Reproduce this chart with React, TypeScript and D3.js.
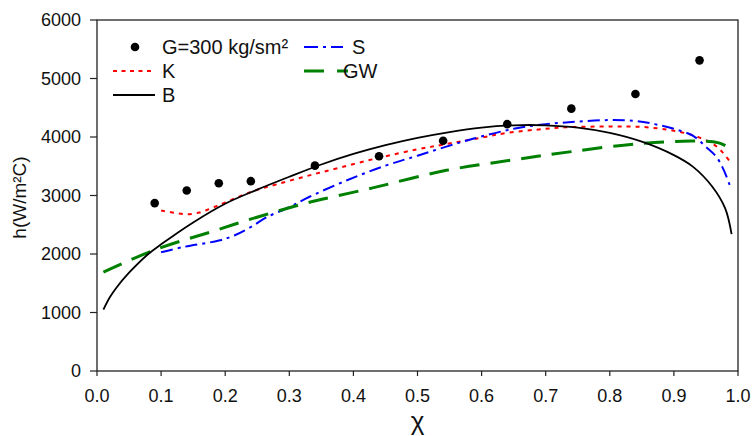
import React from 'react';
import * as d3 from 'd3';

// measured points G=300 kg/sm²
const expX = [0.09, 0.14, 0.19, 0.24, 0.34, 0.44, 0.54, 0.64, 0.74, 0.84, 0.94];
const expH = [2870, 3085, 3210, 3245, 3510, 3670, 3935, 4220, 4485, 4735, 5310];

// correlations
const kX = [0.1, 0.12, 0.14, 0.16, 0.18, 0.2, 0.24, 0.28, 0.33, 0.38, 0.44, 0.5, 0.54, 0.6, 0.64, 0.7, 0.73, 0.8, 0.85, 0.89, 0.92, 0.94, 0.96, 0.975, 0.988];
const kH = [2745, 2705, 2680, 2710, 2790, 2880, 3060, 3190, 3340, 3480, 3645, 3790, 3870, 3990, 4070, 4140, 4165, 4180, 4172, 4125, 4060, 3990, 3890, 3750, 3570];

const bX = [0.01, 0.02, 0.03, 0.05, 0.08, 0.1, 0.15, 0.2, 0.25, 0.3, 0.35, 0.4, 0.45, 0.5, 0.55, 0.6, 0.65, 0.7, 0.75, 0.8, 0.85, 0.9, 0.93, 0.96, 0.98, 0.99];
const bH = [1050, 1260, 1420, 1680, 2000, 2165, 2540, 2860, 3100, 3320, 3530, 3710, 3860, 3985, 4085, 4160, 4200, 4200, 4160, 4070, 3920, 3690, 3490, 3150, 2780, 2340];

const sX = [0.1, 0.135, 0.19, 0.215, 0.24, 0.265, 0.3, 0.33, 0.39, 0.45, 0.5, 0.58, 0.65, 0.7, 0.75, 0.8, 0.84, 0.87, 0.9, 0.93, 0.95, 0.967, 0.978, 0.988];
const sH = [2030, 2120, 2230, 2320, 2460, 2630, 2800, 2970, 3260, 3510, 3680, 3950, 4140, 4220, 4262, 4290, 4275, 4220, 4140, 4020, 3830, 3650, 3430, 3150];

const gwX = [0.01, 0.09, 0.19, 0.235, 0.3, 0.33, 0.43, 0.545, 0.65, 0.74, 0.84, 0.93, 0.97, 0.99];
const gwH = [1690, 2070, 2420, 2580, 2790, 2880, 3130, 3430, 3610, 3750, 3880, 3930, 3900, 3790];

const xTicks = [0, 0.1, 0.2, 0.3, 0.4, 0.5, 0.6, 0.7, 0.8, 0.9, 1.0];
const yTicks = [0, 1000, 2000, 3000, 4000, 5000, 6000];

const W = 752;
const H = 436;
const margin = { left: 97, right: 14, top: 20, bottom: 65 };
const font = 'Liberation Sans, Arial, sans-serif';

const App = () => {
  const x = d3.scaleLinear().domain([0, 1]).range([margin.left, W - margin.right]);
  const y = d3.scaleLinear().domain([0, 6000]).range([H - margin.bottom, margin.top]);

  const line = d3
    .line<number>()
    .curve(d3.curveCatmullRom.alpha(0.5));

  const path = (xs: number[], ys: number[]) =>
    line.x((d, i) => x(xs[i])).y((d) => y(d))(ys) || '';

  const series = [
    { name: 'K', xs: kX, ys: kH, color: '#ff0000', dash: '4,5', width: 2 },
    { name: 'S', xs: sX, ys: sH, color: '#0000ff', dash: '12,5,3,5', width: 2 },
    { name: 'GW', xs: gwX, ys: gwH, color: '#008000', dash: '20,11', width: 3 },
    { name: 'B', xs: bX, ys: bH, color: '#000000', dash: null, width: 1.8 },
  ];

  const x0 = x(0);
  const y0 = y(0);

  return (
    <svg width={W} height={H} style={{ position: 'absolute', left: 0, top: 0 }}>
      <rect x={0} y={0} width={W} height={H} fill="#fff" />

      {/* frame */}
      <rect
        x={x0}
        y={y(6000)}
        width={x(1) - x0}
        height={y0 - y(6000)}
        fill="none"
        stroke="#222"
        strokeWidth={1.3}
      />

      {/* y axis */}
      {yTicks.map((t) => (
        <g key={'y' + t}>
          <line x1={x0 - 7} x2={x0} y1={y(t)} y2={y(t)} stroke="#222" strokeWidth={1.2} />
          <text x={x0 - 16} y={y(t)} dy="0.36em" textAnchor="end" fontFamily={font} fontSize={18} fill="#111">
            {t}
          </text>
        </g>
      ))}

      {/* x axis */}
      {xTicks.map((t) => (
        <g key={'x' + t}>
          <line x1={x(t)} x2={x(t)} y1={y0} y2={y0 + 5} stroke="#222" strokeWidth={1.2} />
          <text x={x(t)} y={y0 + 31} textAnchor="middle" fontFamily={font} fontSize={18} fill="#111">
            {t.toFixed(1)}
          </text>
        </g>
      ))}

      <text x={x(0.5)} y={430} textAnchor="middle" fontFamily={font} fontSize={26} fill="#111">
        χ
      </text>
      <text
        transform={`translate(26, ${(y(6000) + y0) / 2 + 2}) rotate(-90)`}
        textAnchor="middle"
        fontFamily={font}
        fontSize={19}
        fill="#111"
      >
        h(W/m²C)
      </text>

      {/* curves */}
      {series.map((s) => (
        <path
          key={s.name}
          d={path(s.xs, s.ys)}
          fill="none"
          stroke={s.color}
          strokeWidth={s.width}
          strokeDasharray={s.dash || undefined}
        />
      ))}

      {/* experimental points */}
      {expX.map((v, i) => (
        <circle key={'p' + i} cx={x(v)} cy={y(expH[i])} r={4.3} fill="#000" />
      ))}

      {/* legend */}
      <g fontFamily={font} fontSize={20} fill="#111">
        <circle cx={135} cy={47} r={4.3} fill="#000" />
        <text x={162} y={54}>G=300 kg/sm²</text>

        <line x1={113} x2={154} y1={71} y2={71} stroke="#ff0000" strokeWidth={2} strokeDasharray="4,4.5" />
        <text x={162} y={78}>K</text>

        <line x1={113} x2={155} y1={95} y2={95} stroke="#000" strokeWidth={1.8} />
        <text x={162} y={102}>B</text>

        <line x1={304} x2={343} y1={47} y2={47} stroke="#0000ff" strokeWidth={2} strokeDasharray="14,5,3,5" />
        <text x={352} y={54}>S</text>

        <line x1={304} x2={348} y1={71} y2={71} stroke="#008000" strokeWidth={3} strokeDasharray="20,13" />
        <text x={343} y={78}>GW</text>
      </g>
    </svg>
  );
};

export default App;
